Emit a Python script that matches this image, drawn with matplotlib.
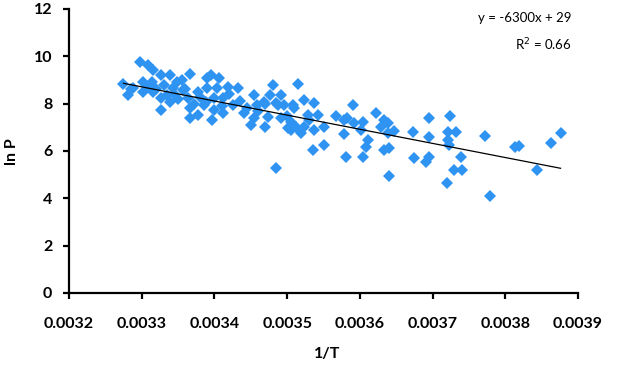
import matplotlib
matplotlib.use("Agg")
import matplotlib.pyplot as plt

plt.rcParams['font.family'] = ['Lato', 'DejaVu Sans']

inv_T = [0.0032745, 0.003281, 0.003288, 0.003298, 0.003302, 0.003302, 0.003308, 0.003314, 0.003316, 0.003316,
         0.003326, 0.003326, 0.003326, 0.003335, 0.003339, 0.003339, 0.003343, 0.003349, 0.003357, 0.003363,
         0.003367, 0.003367, 0.003367, 0.003377, 0.003377, 0.003385, 0.003388, 0.00339, 0.00339, 0.003395,
         0.003397, 0.003399, 0.003399, 0.003404, 0.003406, 0.003412, 0.003412, 0.003418, 0.003426, 0.003432,
         0.00344, 0.003454, 0.003454, 0.003459, 0.003468, 0.003473, 0.003477, 0.003481, 0.003484, 0.003487,
         0.003484, 0.003491, 0.003491, 0.003495, 0.003501, 0.003505, 0.003505, 0.003508, 0.003509, 0.003512,
         0.003515, 0.003519, 0.003523, 0.003523, 0.003528, 0.003535, 0.003537, 0.003537, 0.003542, 0.00355,
         0.00355, 0.003567, 0.003578, 0.003578, 0.003581, 0.003583, 0.00359, 0.003592, 0.003601, 0.003604,
         0.003604, 0.003608, 0.003611, 0.003622, 0.003629, 0.003633, 0.003633, 0.003639, 0.003639, 0.00364,
         0.00364, 0.003647, 0.003673, 0.003675, 0.003695, 0.003695, 0.003695, 0.003691, 0.003724, 0.003721,
         0.003732, 0.003721, 0.003723, 0.003739, 0.00373, 0.003741, 0.00372, 0.003772, 0.003779, 0.003814,
         0.003819, 0.003843, 0.003863, 0.003876,
         0.00331, 0.00332, 0.00333, 0.003345, 0.00335, 0.00336, 0.003372, 0.00338, 0.00341, 0.00342,
         0.003445, 0.00346, 0.00347, 0.0035, 0.00353, 0.00347, 0.003285, 0.003355, 0.003435, 0.00345]
ln_P = [8.83, 8.37, 8.66, 9.76, 8.91, 8.49, 9.63, 8.91, 9.42, 8.49,
        9.21, 8.24, 7.73, 8.37, 9.21, 8.07, 8.66, 8.91, 8.58, 8.24,
        9.25, 7.82, 7.39, 8.49, 7.52, 7.94, 8.07, 9.08, 8.66, 9.21,
        7.31, 8.24, 7.73, 8.66, 9.08, 8.24, 7.60, 8.70, 7.94, 8.66,
        7.60, 8.37, 7.39, 7.94, 8.07, 7.44, 8.37, 8.79, 8.03, 7.94,
        5.28, 8.37, 7.39, 7.94, 6.97, 7.22, 6.89, 7.94, 7.82, 7.01,
        8.83, 6.76, 8.15, 7.01, 7.52, 6.04, 8.03, 6.89, 7.52, 7.01,
        6.25, 7.48, 7.31, 6.72, 5.75, 7.39, 7.94, 7.18, 6.89, 7.22,
        5.75, 6.17, 6.46, 7.60, 7.01, 7.31, 6.04, 7.18, 6.76, 6.13,
        4.94, 6.84, 6.80, 5.70, 7.39, 6.59, 5.75, 5.53, 7.48, 6.80,
        6.80, 6.46, 6.25, 5.75, 5.20, 5.20, 4.65, 6.63, 4.10, 6.17,
        6.21, 5.20, 6.34, 6.76,
        8.70, 8.60, 8.80, 8.40, 8.20, 8.60, 8.00, 8.30, 7.90, 8.40,
        7.80, 7.70, 8.00, 7.50, 7.30, 7.00, 8.60, 9.00, 8.10, 7.10]

trend_x = [0.003275, 0.003876]
trend_y = [8.86, 5.27]

x_ticks = [0.0032, 0.0033, 0.0034, 0.0035, 0.0036, 0.0037, 0.0038, 0.0039]
y_ticks = [0, 2, 4, 6, 8, 10, 12]
eq_text = "y = -6300x + 29"
r2_text = "R$^2$ = 0.66"

W, H = 633, 369
fig = plt.figure(figsize=(W / 100, H / 100), dpi=100)
ax = fig.add_axes([69/W, 1 - 293/H, (578 - 69)/W, (293 - 9)/H])

ax.plot(inv_T, ln_P, linestyle='none', marker='D', markersize=6.2,
        markerfacecolor='#2F93F2', markeredgewidth=0, zorder=2)
ax.plot(trend_x, trend_y, color='black', linewidth=0.9, zorder=3)

ax.set_xlim(0.0032, 0.0039)
ax.set_ylim(0, 12)
ax.set_xticks(x_ticks)
ax.set_xticklabels([f"{v:.4f}" for v in x_ticks])
ax.set_yticks(y_ticks)
ax.set_yticklabels([str(v) for v in y_ticks])

for s in ['top', 'right']:
    ax.spines[s].set_visible(False)
for s in ['left', 'bottom']:
    ax.spines[s].set_linewidth(1.6)
    ax.spines[s].set_color('black')
ax.tick_params(axis='both', direction='out', length=4, width=1.6, labelsize=11.5)
ax.tick_params(axis='x', pad=13)
ax.tick_params(axis='y', pad=8)
for lab in ax.get_xticklabels() + ax.get_yticklabels():
    lab.set_fontweight('bold')

fig.text(327/W, 1 - 354/H, "1/T", fontsize=11.5, fontweight='bold', ha='center', va='center')
fig.text(12/W, 1 - 152/H, "ln P", fontsize=11.5, fontweight='bold', ha='center', va='center', rotation=90)

ax.text(0.9875, (293 - 18)/284, eq_text, transform=ax.transAxes, ha='right', va='center', fontsize=9.5)
ax.text(0.9875, (293 - 45)/284, r2_text, transform=ax.transAxes, ha='right', va='center', fontsize=9.5)

fig.savefig("out.png", dpi=100)
